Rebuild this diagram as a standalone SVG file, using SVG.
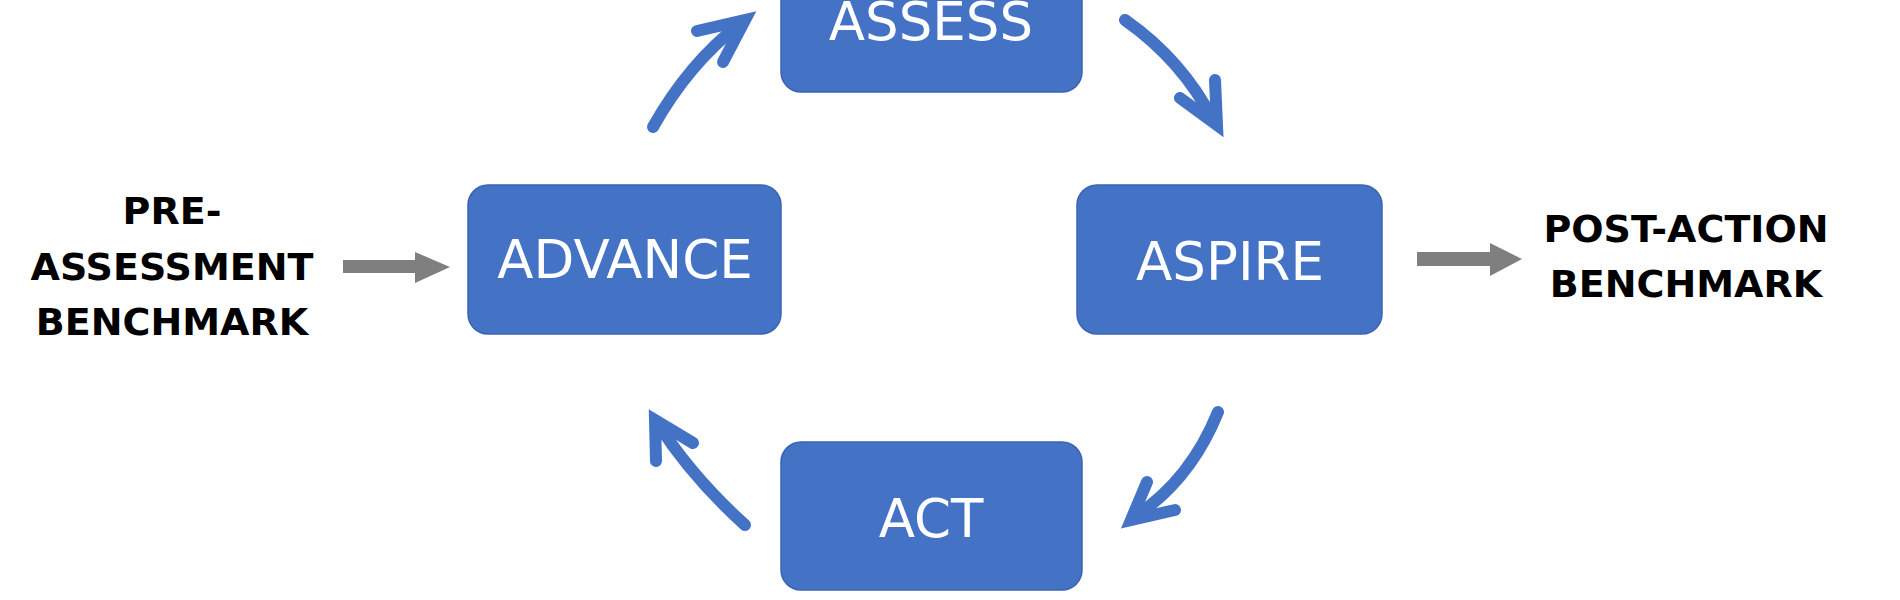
<svg xmlns="http://www.w3.org/2000/svg" width="1900" height="600" viewBox="0 0 1900 600">
<style>
.box{fill:#4472C4;stroke:#3A64B2;stroke-width:1.5}
.lbl{font-family:"DejaVu Sans","Liberation Sans",sans-serif;font-size:53px;fill:#ffffff;text-anchor:middle}
.side{font-family:"DejaVu Sans","Liberation Sans",sans-serif;font-size:38px;font-weight:bold;fill:#000000;text-anchor:middle}
.blue{fill:none;stroke:#4472C4;stroke-width:12;stroke-linecap:round;stroke-linejoin:miter}
.gray{fill:#7F7F7F}
</style>
<rect width="1900" height="600" fill="#ffffff"/>
<g id="pre-assessment">
<text class="side" x="172" y="224">PRE-</text>
<text class="side" x="172" y="280">ASSESSMENT</text>
<text class="side" x="172" y="335">BENCHMARK</text>
</g>
<g id="post-action">
<text class="side" x="1686" y="242">POST-ACTION</text>
<text class="side" x="1686" y="297">BENCHMARK</text>
</g>
<g id="advance">
<rect class="box" x="468" y="185" width="313" height="149" rx="20"/>
<text class="lbl" x="625" y="278">ADVANCE</text>
</g>
<g id="assess">
<rect class="box" x="781" y="-57" width="301" height="149" rx="20"/>
<text class="lbl" x="931" y="40">ASSESS</text>
</g>
<g id="aspire">
<rect class="box" x="1077" y="185" width="305" height="149" rx="20"/>
<text class="lbl" x="1230" y="280">ASPIRE</text>
</g>
<g id="act">
<rect class="box" x="781" y="442" width="301" height="148" rx="20"/>
<text class="lbl" x="931" y="537">ACT</text>
</g>
<g id="connectors">
<path class="gray" d="M343,260 L415,260 L415,252 L450,267 L415,283 L415,273 L343,273 Z"/>
<path class="gray" d="M1417,252 L1490,252 L1490,243 L1522,259 L1490,276 L1490,266 L1417,266 Z"/>
<path class="blue" d="M653,127 Q689,63 740,24"/>
<polyline class="blue" points="697,31 745,20 723,62"/>
<path class="blue" d="M1125,20 Q1182,60 1213,120"/>
<polyline class="blue" points="1215,80 1217,125 1180,98"/>
<path class="blue" d="M1218,412 Q1190,481 1134,517"/>
<polyline class="blue" points="1147,482 1131,520 1175,510"/>
<path class="blue" d="M745,525 Q692,477 658,424"/>
<polyline class="blue" points="656,461 655,420 693,443"/>
</g>
</svg>
